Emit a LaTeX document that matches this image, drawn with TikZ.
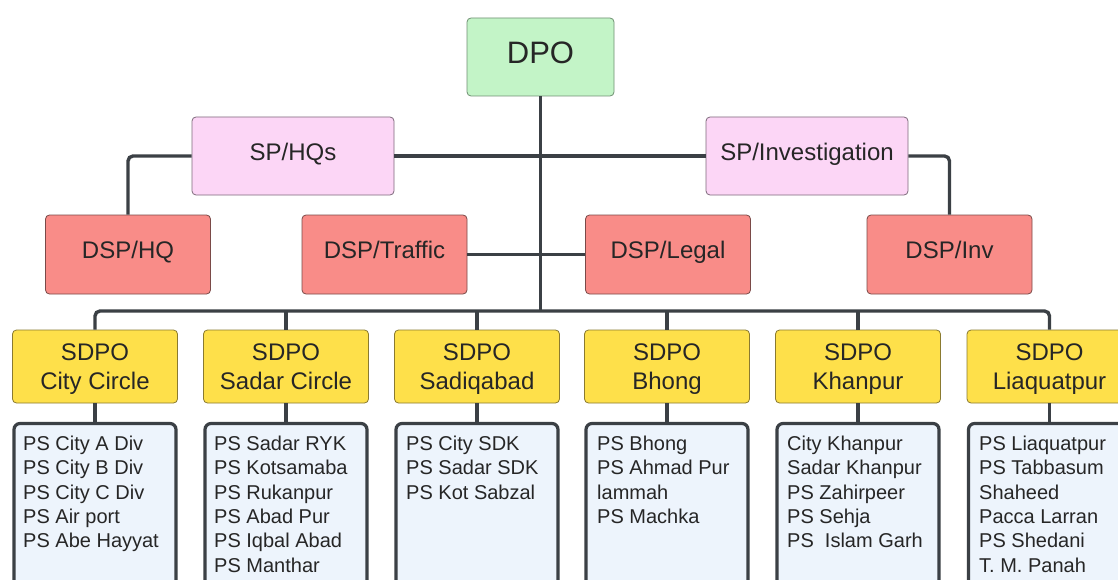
\documentclass[tikz,border=0pt]{standalone}
\usepackage{fontspec}
\setmainfont{Liberation Sans}
\definecolor{txt}{HTML}{262626}
\definecolor{lne}{HTML}{3B4045}
\definecolor{cGreen}{HTML}{C3F4C7}
\definecolor{bGreen}{HTML}{6F8F72}
\definecolor{cPink}{HTML}{FCD6F6}
\definecolor{bPink}{HTML}{7E6A7B}
\definecolor{cRed}{HTML}{F98C88}
\definecolor{bRed}{HTML}{7A4A48}
\definecolor{cYel}{HTML}{FEE04A}
\definecolor{bYel}{HTML}{8A7A30}
\definecolor{cBlue}{HTML}{EDF4FC}
\newcommand\sst{\rule[-5.7pt]{0pt}{27.7pt}}
\begin{document}
\begin{tikzpicture}[x=1pt,y=-1pt,
  lvl/.style={rounded corners=4pt, line width=0.8pt, inner sep=0pt, text=txt,
    font=\fontsize{24}{29}\selectfont},
  dpobox/.style={lvl, fill=cGreen, draw=bGreen, minimum width=147pt, minimum height=78pt,
    font=\fontsize{31}{36}\selectfont, text height=24pt, text depth=10pt},
  spbox/.style={lvl, fill=cPink, draw=bPink, minimum width=202pt, minimum height=78pt,
    text height=19pt, text depth=9pt},
  dspbox/.style={lvl, fill=cRed, draw=bRed, minimum width=165pt, minimum height=79pt,
    text height=19pt, text depth=12pt},
  sdpobox/.style={lvl, fill=cYel, draw=bYel, minimum width=165pt, minimum height=73pt,
    align=center, font=\fontsize{24}{29.3}\selectfont},
  psbox/.style={draw=lne, fill=cBlue, line width=3.2pt, rounded corners=6pt,
    minimum width=162pt, minimum height=190pt, inner sep=0pt},
  pstext/.style={anchor=north west, inner sep=0pt, align=left, text=txt,
    font=\fontsize{20}{24.3}\selectfont},
  conn/.style={draw=lne, line width=3.4pt, rounded corners=5pt}
]
\useasboundingbox (0,0) rectangle (1118,580);
\fill[white] (0,0) rectangle (1118,580);
\clip (0,0) rectangle (1118,580);

% top levels
\node[dpobox] (dpo) at (540.5,57) {DPO};
\node[spbox] (sphq) at (293,156) {SP/HQs};
\node[spbox] (spinv) at (807,156) {SP/Investigation};
\node[dspbox] (dsphq) at (128,254.5) {DSP/HQ};
\node[dspbox] (dsptr) at (384.5,254.5) {DSP/Traffic};
\node[dspbox] (dspleg) at (668,254.5) {DSP/Legal};
\node[dspbox] (dspinv) at (949.5,254.5) {DSP/Inv};

% SDPO
\node[sdpobox] (s1) at (95,366.5) {\sst SDPO\\\sst City Circle};
\node[sdpobox] (s2) at (286,366.5) {\sst SDPO\\\sst Sadar Circle};
\node[sdpobox] (s3) at (477,366.5) {\sst SDPO\\\sst Sadiqabad};
\node[sdpobox] (s4) at (667,366.5) {\sst SDPO\\\sst Bhong};
\node[sdpobox] (s5) at (858,366.5) {\sst SDPO\\\sst Khanpur};
\node[sdpobox] (s6) at (1049.5,366.5) {\sst SDPO\\\sst Liaquatpur};

% PS boxes
\node[psbox] (p1) at (95,518.5) {};
\node[psbox] (p2) at (286,518.5) {};
\node[psbox] (p3) at (477,518.5) {};
\node[psbox] (p4) at (667,518.5) {};
\node[psbox] (p5) at (858,518.5) {};
\node[psbox] (p6) at (1049.5,518.5) {};

\node[pstext] (t1) at (23,436) {PS City A Div\\PS City B Div\\PS City C Div\\PS Air port\\PS Abe Hayyat};
\node[pstext] (t2) at (214,436) {PS Sadar RYK\\PS Kotsamaba\\PS Rukanpur\\PS Abad Pur\\PS Iqbal Abad\\PS Manthar};
\node[pstext] (t3) at (406,436) {PS City SDK\\PS Sadar SDK\\PS Kot Sabzal};
\node[pstext] (t4) at (597,436) {PS Bhong\\PS Ahmad Pur\\lammah\\PS Machka};
\node[pstext] (t5) at (787,436) {City Khanpur\\Sadar Khanpur\\PS Zahirpeer\\PS Sehja\\PS\ \ Islam Garh};
\node[pstext] (t6) at (979,436) {PS Liaquatpur\\PS Tabbasum\\Shaheed\\Pacca Larran\\PS Shedani\\T. M. Panah};

% connectors
\coordinate (bus) at (540.5,311);
\draw[conn] (dpo.south) -- (bus);
\draw[conn] (sphq.east) -- (spinv.west);
\draw[conn] (sphq.west) -| (dsphq.north);
\draw[conn] (spinv.east) -| (dspinv.north);
\draw[conn] (dsptr.east) -- (dspleg.west);
\draw[conn] (s1.north) |- (bus) -| (s6.north);
\foreach \i in {2,3,4,5} {
  \draw[conn] (s\i.north) -- (s\i.north |- bus);
}
\foreach \i in {1,...,6} {
  \draw[conn, rounded corners=0pt] (s\i.south) -- (p\i.north);
}
\end{tikzpicture}
\end{document}
